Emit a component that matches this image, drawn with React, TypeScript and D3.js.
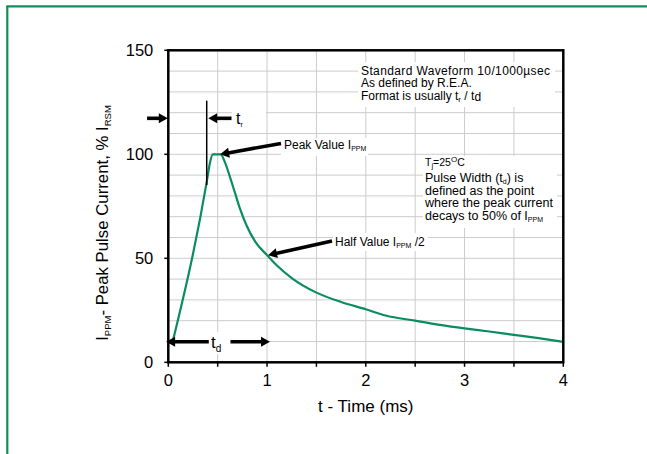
import React from "react";
import * as d3 from "d3";

// ---- data ----
const timeMs = [0.04, 0.39, 0.42, 0.45, 0.53, 0.575, 0.625, 0.675, 0.725, 0.795, 0.88, 1.0, 1.1, 1.25, 1.5, 1.75, 2.0, 2.2, 2.5, 2.75, 3.0, 3.25, 3.5, 3.75, 4.0];
const currentPct = [9, 87, 95.5, 100, 100, 96, 89, 81.5, 74, 65.5, 58, 51.5, 46.5, 40.5, 33.5, 29, 25.5, 22.5, 20, 18, 16.3, 14.8, 13.2, 11.6, 9.8];

const xTickLabels = [0, 1, 2, 3, 4];
const xGridValues = [0, 0.5, 1, 1.5, 2, 2.5, 3, 3.5, 4];
const yTickLabels = [0, 50, 100, 150];
const yGridValues = [0, 10, 20, 30, 40, 50, 60, 70, 80, 90, 100, 110, 120, 130, 140, 150];

const W = 647;
const H = 454;
const LEFT = 168.3;
const RIGHT = 563.3;
const TOP = 50.3;
const BOTTOM = 362.3;

const GREEN = "#0b8c5f";
const FRAME = "#138c5c";
const FONT = "'Liberation Sans', Arial, Helvetica, sans-serif";

function Arrow({ x1, y1, x2, y2 }: { x1: number; y1: number; x2: number; y2: number }) {
  const dx = x2 - x1;
  const dy = y2 - y1;
  const len = Math.sqrt(dx * dx + dy * dy);
  const ux = dx / len;
  const uy = dy / len;
  const hl = 9;
  const hw = 5;
  const bx = x2 - ux * hl;
  const by = y2 - uy * hl;
  const px = -uy;
  const py = ux;
  const pts = `${x2},${y2} ${bx + px * hw},${by + py * hw} ${bx - px * hw},${by - py * hw}`;
  return (
    <g>
      <line x1={x1} y1={y1} x2={bx + ux * 1} y2={by + uy * 1} stroke="#000" strokeWidth={3.6} />
      <polygon points={pts} fill="#000" />
    </g>
  );
}

export default function App() {
  const x = d3.scaleLinear().domain([0, 4]).range([LEFT, RIGHT]);
  const y = d3.scaleLinear().domain([0, 150]).range([BOTTOM, TOP]);

  const line = d3
    .line<number>()
    .x((_, i) => x(timeMs[i]))
    .y((d) => y(d))
    .curve(d3.curveMonotoneX);
  const path = line(currentPct) || "";

  // annotation anchors in data units
  const trX = 0.389;
  const trY = 117.3;
  const tdY = 9.9;

  return (
    <svg
      width={W}
      height={H}
      style={{ position: "absolute", left: 0, top: 0, background: "#fff" }}
      fontFamily={FONT}
    >
      <rect x={0} y={0} width={W} height={H} fill="#fff" />
      {/* outer green frame */}
      <line x1={6.3} y1={6.3} x2={W} y2={6.3} stroke={FRAME} strokeWidth={2.2} />
      <line x1={7.3} y1={6.3} x2={7.3} y2={H} stroke={FRAME} strokeWidth={2.2} />

      {/* grid */}
      <g stroke="#cccccc" strokeWidth={1}>
        {xGridValues.map((v) => (
          <line key={"gx" + v} x1={x(v)} x2={x(v)} y1={TOP} y2={BOTTOM} />
        ))}
        {yGridValues.map((v) => (
          <line key={"gy" + v} x1={LEFT} x2={RIGHT} y1={y(v)} y2={y(v)} />
        ))}
      </g>

      {/* white label boxes covering gridlines */}
      <g fill="#fff">
        <rect x={358} y={62} width={197} height={45} />
        <rect x={423} y={156} width={134} height={72} />
        <rect x={281} y={138} width={87} height={18} />
        <rect x={333} y={233} width={95} height={18} />
        <rect x={232} y={108} width={34} height={24} />
        <rect x={208} y={332} width={22} height={22} />
      </g>

      {/* curve */}
      <path d={path} fill="none" stroke={GREEN} strokeWidth={2.2} />

      {/* frame of plot */}
      <rect x={LEFT} y={TOP} width={RIGHT - LEFT} height={BOTTOM - TOP} fill="none" stroke="#000" strokeWidth={2.5} />

      {/* ticks */}
      <g stroke="#000" strokeWidth={1.5}>
        {xGridValues.map((v) => (
          <line key={"tx" + v} x1={x(v)} x2={x(v)} y1={BOTTOM} y2={BOTTOM + 4.5} />
        ))}
        {yTickLabels.map((v) => (
          <line key={"ty" + v} x1={LEFT - 4} x2={LEFT} y1={y(v)} y2={y(v)} />
        ))}
      </g>

      {/* tick labels */}
      <g fontSize={16.5} fill="#000">
        {xTickLabels.map((v) => (
          <text key={"lx" + v} x={x(v)} y={BOTTOM + 24} textAnchor="middle">
            {v}
          </text>
        ))}
        {yTickLabels.map((v) => (
          <text key={"ly" + v} x={LEFT - 15} y={y(v) + 6} textAnchor="end">
            {v}
          </text>
        ))}
      </g>

      {/* axis titles */}
      <text x={(LEFT + RIGHT) / 2} y={412} textAnchor="middle" fontSize={17} fill="#000">
        t - Time (ms)
      </text>
      <text transform={`translate(108,223) rotate(-90)`} textAnchor="middle" fontSize={16.8} fill="#000">
        I<tspan fontSize={9.5} dy={3}>PPM</tspan>
        <tspan dy={-3}>- Peak Pulse Current, % I</tspan>
        <tspan fontSize={9.5} dy={3}>RSM</tspan>
      </text>

      {/* top-right note */}
      <g fontSize={12} fill="#000">
        <text x={361} y={74.5} textLength={189} lengthAdjust="spacing">Standard Waveform 10/1000µsec</text>
        <text x={361} y={87}>As defined by R.E.A.</text>
        <text x={361} y={99.5}>
          Format is usually t<tspan fontSize={8} dy={2}>r</tspan>
          <tspan dy={-2}> / t</tspan>
          <tspan fontSize={12} dy={1.5}>d</tspan>
        </text>
      </g>

      {/* Tj note */}
      <g fill="#000">
        <text x={425} y={166} fontSize={10.5}>
          T<tspan fontSize={7.5} dy={2}>j</tspan>
          <tspan dy={-2}>=25</tspan>
          <tspan fontSize={8} dy={-4}>O</tspan>
          <tspan dy={4}>C</tspan>
        </text>
        <g fontSize={12.5}>
          <text x={425} y={182}>
            Pulse Width (t<tspan fontSize={7} dy={2}>d</tspan>
            <tspan dy={-2}>) is</tspan>
          </text>
          <text x={425} y={194.5}>defined as the point</text>
          <text x={425} y={207}>where the peak current</text>
          <text x={425} y={219.5}>
            decays to 50% of I<tspan fontSize={7} dy={2}>PPM</tspan>
          </text>
        </g>
      </g>

      {/* peak value */}
      <text x={284} y={149} fontSize={12} fill="#000">
        Peak Value I<tspan fontSize={7} dy={2}>PPM</tspan>
      </text>
      <Arrow x1={281} y1={143.5} x2={x(0.525)} y2={y(100)} />

      {/* half value */}
      <text x={335} y={246} fontSize={12} fill="#000">
        Half Value I<tspan fontSize={7} dy={2}>PPM</tspan>
        <tspan dy={-2}> /2</tspan>
      </text>
      <Arrow x1={332} y1={241} x2={x(1.01)} y2={y(51.5)} />

      {/* t_r annotation */}
      <line x1={x(trX)} x2={x(trX)} y1={y(125.8)} y2={y(85.2)} stroke="#000" strokeWidth={1.5} />
      <Arrow x1={x(-0.215)} y1={y(trY)} x2={LEFT - 0.5} y2={y(trY)} />
      <Arrow x1={x(0.64)} y1={y(trY)} x2={x(trX) + 1.5} y2={y(trY)} />
      <text x={236} y={124} fontSize={16} fill="#000">
        t<tspan fontSize={7} dy={3}>r</tspan>
      </text>

      {/* t_d annotation */}
      <Arrow x1={x(0.41)} y1={y(tdY)} x2={x(-0.022)} y2={y(tdY)} />
      <Arrow x1={x(0.63)} y1={y(tdY)} x2={x(1.03)} y2={y(tdY)} />
      <text x={211} y={348} fontSize={17} fill="#000">
        t<tspan fontSize={10} dy={4}>d</tspan>
      </text>
    </svg>
  );
}
